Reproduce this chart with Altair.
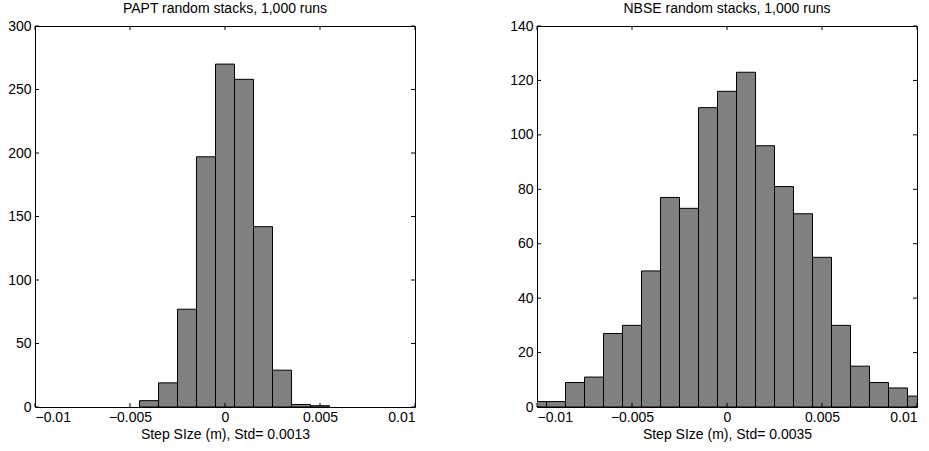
import altair as alt
import pandas as pd

# ---- data ----
papt_centers = [-0.004, -0.003, -0.002, -0.001, 0.0, 0.001, 0.002, 0.003, 0.004, 0.005]
papt_counts = [5, 19, 77, 197, 270, 258, 142, 29, 2, 1]

nbse_centers = [-0.010, -0.009, -0.008, -0.007, -0.006, -0.005, -0.004, -0.003, -0.002, -0.001,
                0.0, 0.001, 0.002, 0.003, 0.004, 0.005, 0.006, 0.007, 0.008, 0.009, 0.010]
nbse_counts = [2, 2, 9, 11, 27, 30, 50, 77, 73, 110,
               116, 123, 96, 81, 71, 55, 30, 15, 9, 7, 4]

x_ticks = [-0.01, -0.005, 0.0, 0.005, 0.01]
papt_y_ticks = [0, 50, 100, 150, 200, 250, 300]
nbse_y_ticks = [0, 20, 40, 60, 80, 100, 120, 140]

titles = ["PAPT random stacks, 1,000 runs", "NBSE random stacks, 1,000 runs"]
x_titles = ["Step SIze (m), Std= 0.0013", "Step SIze (m), Std= 0.0035"]

HALF_BIN = 0.0005
W, H = 380, 381
TICK = 4
FONT = "Liberation Sans"
FS = 14


def panel(centers, counts, yticks, title, xtitle):
    df = pd.DataFrame({"center": centers, "count": counts})
    xs = alt.Scale(domain=[x_ticks[0], x_ticks[-1]], nice=False, zero=False)
    ys = alt.Scale(domain=[yticks[0], yticks[-1]], nice=False)
    xa = alt.Axis(values=x_ticks, format="~g", title=xtitle, labelPadding=3, titlePadding=3)
    ya = alt.Axis(values=yticks, title=None, labelPadding=4)

    bars = (
        alt.Chart(df)
        .transform_calculate(lo=f"datum.center - {HALF_BIN}", hi=f"datum.center + {HALF_BIN}")
        .mark_rect(fill="#808080", stroke="black", strokeWidth=1, clip=True)
        .encode(
            x=alt.X("lo:Q", scale=xs, axis=xa),
            x2="hi:Q",
            y=alt.Y("count:Q", scale=ys, axis=ya),
            y2=alt.datum(0),
        )
    )

    xt = pd.DataFrame({"t": x_ticks})
    yt = pd.DataFrame({"t": yticks})
    rule_style = dict(color="black", strokeWidth=1)
    xb = alt.Chart(xt).mark_rule(**rule_style).encode(
        x=alt.X("t:Q", scale=xs, axis=xa), y=alt.value(H), y2=alt.value(H - TICK))
    xtop = alt.Chart(xt).mark_rule(**rule_style).encode(
        x=alt.X("t:Q", scale=xs, axis=xa), y=alt.value(0), y2=alt.value(TICK))
    yl = alt.Chart(yt).mark_rule(**rule_style).encode(
        y=alt.Y("t:Q", scale=ys, axis=ya), x=alt.value(0), x2=alt.value(TICK))
    yr = alt.Chart(yt).mark_rule(**rule_style).encode(
        y=alt.Y("t:Q", scale=ys, axis=ya), x=alt.value(W), x2=alt.value(W - TICK))

    return alt.layer(bars, xb, xtop, yl, yr).properties(
        width=W, height=H,
        title=alt.TitleParams(title, fontSize=FS, font=FONT, fontWeight="normal",
                              color="black", offset=3),
    )


left = panel(papt_centers, papt_counts, papt_y_ticks, titles[0], x_titles[0])
right = panel(nbse_centers, nbse_counts, nbse_y_ticks, titles[1], x_titles[1])

chart = (
    alt.hconcat(left, right, spacing=93)
    .properties(padding={"left": 7, "top": 1, "right": 0, "bottom": 0}, background="white")
    .configure_view(stroke="black", strokeWidth=1)
    .configure_axis(
        labelFont=FONT, labelFontSize=FS, labelColor="black",
        titleFont=FONT, titleFontSize=FS, titleColor="black", titleFontWeight="normal",
        domain=False, ticks=False, grid=False,
    )
)

chart.save("out.html", embed_options={"renderer": "svg", "actions": False})
